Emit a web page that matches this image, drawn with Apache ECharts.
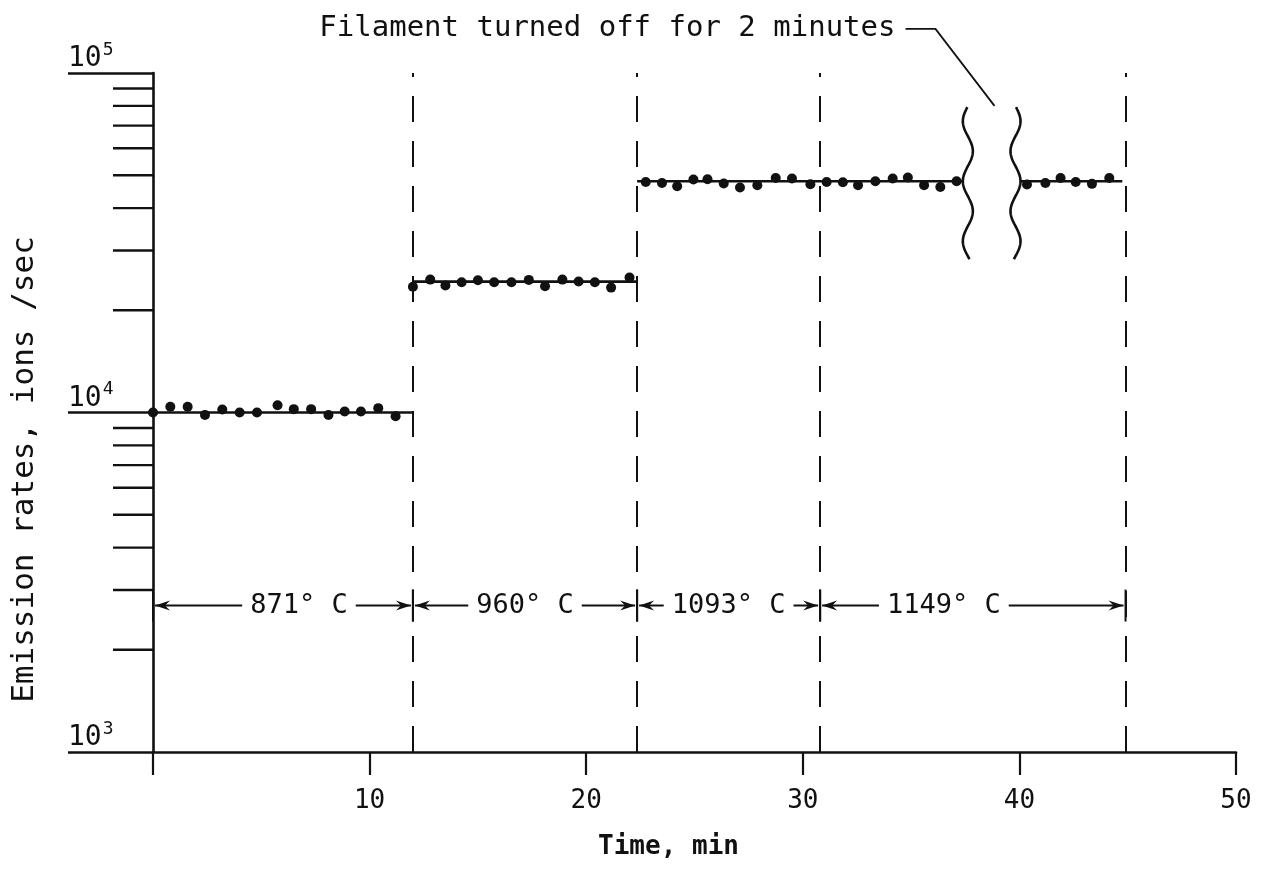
<!DOCTYPE html>
<html>
<head>
<meta charset="utf-8">
<script src="https://cdn.jsdelivr.net/npm/echarts@6/dist/echarts.min.js"></script>
<style>
html,body{margin:0;padding:0;background:#ffffff;}
#chart{width:1271px;height:873px;}
</style>
</head>
<body>
<div id="chart"></div>
<script>
// ---------------- data ----------------
const xTickValues = [0, 10, 20, 30, 40, 50];
const yMajorTicks = [1000, 10000, 100000];
const yMinorTicks = [2000, 3000, 4000, 5000, 6000, 7000, 8000, 9000,
                     20000, 30000, 40000, 50000, 60000, 70000, 80000, 90000];

// measured emission rates (ions/sec) vs time (min)
const seg1Times = [0, 0.8, 1.6, 2.4, 3.2, 4.0, 4.8, 5.75, 6.5, 7.3, 8.1, 8.85, 9.6, 10.4, 11.2];
const seg1Rates = [10000, 10400, 10400, 9840, 10200, 10000, 10000, 10500, 10230, 10230, 9830, 10070, 10070, 10300, 9750];

const seg2Times = [12.0, 12.8, 13.5, 14.25, 15.0, 15.75, 16.55, 17.35, 18.1, 18.9, 19.65, 20.4, 21.15, 22.0];
const seg2Rates = [23450, 24630, 23650, 24190, 24520, 24190, 24190, 24580, 23550, 24630, 24300, 24190, 23330, 24970];

const seg3Times = [22.75, 23.5, 24.2, 24.95, 25.6, 26.35, 27.1, 27.9, 28.75, 29.5, 30.35, 31.1, 31.85, 32.55, 33.35, 34.15, 34.85, 35.6, 36.35, 37.1];
const seg3Rates = [47770, 47450, 46400, 48550, 48660, 47260, 45990, 46700, 49080, 48890, 47030, 47770, 47670, 46700, 48000, 48890, 49220, 46700, 46180, 48000];

const seg4Times = [40.35, 41.2, 41.9, 42.6, 43.35, 44.15];
const seg4Rates = [46950, 47450, 49080, 47770, 47150, 49080];

// mean level lines
const levelValues = [10000, 24300, 48000, 48000];
const levelStart  = [0, 12, 22.35, 40.05];
const levelEnd    = [12, 22.35, 37.4, 44.75];

// temperature periods
const boundaryTimes = [12, 22.35, 30.8, 44.9];
const tempLabels = ['871° C', '960° C', '1093° C', '1149° C'];
const tempStart  = [0, 12, 22.35, 30.8];
const tempEnd    = [12, 22.35, 30.8, 44.9];

// filament off interval (break marks)
const breakTimes = [37.62, 39.82];
const breakLevel = 48000;
const noteText = 'Filament turned off for 2 minutes';

// ---------------- styling / layout constants ----------------
const INK = '#111111';
const MONO = '"DejaVu Sans Mono", monospace';
const ARROW_LEVEL = 2700;          // y level of the temperature arrows
const NOTE_ANCHOR = [38.85, 80000]; // end of the leader line
const tempLabelShift = [16, 0, 0, -29];

const chart = echarts.init(document.getElementById('chart'), null, {renderer: 'canvas'});

function arrowHead(tipX, y, dir) {
  const L = 15, W = 5, N = 10;
  return {
    type: 'polygon',
    shape: {points: [[tipX, y], [tipX - dir * L, y - W], [tipX - dir * N, y], [tipX - dir * L, y + W]]},
    style: {fill: INK}
  };
}

function textEl(x, y, text, font, align, vAlign, extra) {
  return {
    type: 'text', x: x, y: y,
    style: Object.assign({
      text: text, fill: INK, font: font,
      align: align, textAlign: align,
      verticalAlign: vAlign, textVerticalAlign: vAlign
    }, extra || {})
  };
}

const lineSeries = levelValues.map((lv, i) => ({
  type: 'line',
  silent: true,
  data: [[levelStart[i], lv], [levelEnd[i], lv]],
  showSymbol: false,
  symbol: 'none',
  lineStyle: {color: INK, width: 2.6, opacity: 1},
  z: 3,
  markLine: i === 0 ? {
    silent: true,
    symbol: ['none', 'none'],
    label: {show: false},
    lineStyle: {color: INK, width: 2, type: [26, 19], opacity: 1},
    data: boundaryTimes.map(t => ({xAxis: t}))
  } : undefined
}));

const scatterSeries = [[seg1Times, seg1Rates], [seg2Times, seg2Rates], [seg3Times, seg3Rates], [seg4Times, seg4Rates]]
  .map(([ts, rs]) => ({
    type: 'scatter',
    silent: true,
    data: ts.map((t, k) => [t, rs[k]]),
    symbol: 'circle',
    symbolSize: 10,
    itemStyle: {color: INK, opacity: 1},
    z: 5
  }));

const minorTickSeries = {
  type: 'custom',
  silent: true,
  clip: false,
  data: yMinorTicks.map(v => [0, v]),
  encode: {x: 0, y: 1},
  renderItem: (params, api) => {
    const c = api.coord([0, api.value(1)]);
    return {type: 'line', shape: {x1: c[0] - 40, y1: c[1], x2: c[0], y2: c[1]},
            style: {stroke: INK, lineWidth: 2.4}};
  },
  z: 4
};

const tempSeries = {
  type: 'custom',
  silent: true,
  clip: false,
  data: tempStart.map((s, i) => [s, tempEnd[i], ARROW_LEVEL]),
  encode: {x: [0, 1], y: 2},
  renderItem: (params, api) => {
    const i = params.dataIndex;
    const a = api.coord([api.value(0), ARROW_LEVEL]);
    const b = api.coord([api.value(1), ARROW_LEVEL]);
    const y = a[1];
    const cx = (a[0] + b[0]) / 2 + tempLabelShift[i];
    return {
      type: 'group',
      children: [
        {type: 'line', shape: {x1: a[0] + 2, y1: y, x2: b[0] - 2, y2: y}, style: {stroke: INK, lineWidth: 2}},
        arrowHead(a[0] + 2, y, -1),
        arrowHead(b[0] - 2, y, 1),
        {type: 'line', shape: {x1: a[0], y1: y - 16, x2: a[0], y2: y + 16}, style: {stroke: INK, lineWidth: 2}},
        {type: 'line', shape: {x1: b[0], y1: y - 16, x2: b[0], y2: y + 16}, style: {stroke: INK, lineWidth: 2}},
        textEl(cx, y, tempLabels[i], '27px ' + MONO, 'center', 'middle',
               {backgroundColor: '#ffffff', padding: [3, 8, 3, 8]})
      ]
    };
  },
  z: 6
};

const breakSeries = {
  type: 'custom',
  silent: true,
  clip: false,
  data: breakTimes.map((t, i) => [t, breakLevel, i === 0 ? -1 : 1]),
  encode: {x: 0, y: 1},
  renderItem: (params, api) => {
    const c = api.coord([api.value(0), api.value(1)]);
    const side = api.value(2);
    const pts = [];
    for (let dy = -74; dy <= 78; dy += 1) {
      pts.push([c[0] + side * 5 * Math.cos(2 * Math.PI * dy / 60), c[1] + dy]);
    }
    return {type: 'polyline', shape: {points: pts}, style: {stroke: INK, lineWidth: 2.6, fill: null}};
  },
  z: 6
};

const noteSeries = {
  type: 'custom',
  silent: true,
  clip: false,
  data: [NOTE_ANCHOR],
  encode: {x: 0, y: 1},
  renderItem: (params, api) => {
    const c = api.coord([api.value(0), api.value(1)]);
    const kink = [c[0] - 59, c[1] - 77];
    const hs = [kink[0] - 30, kink[1]];
    return {
      type: 'group',
      children: [
        {type: 'polyline', shape: {points: [hs, kink, c]}, style: {stroke: INK, lineWidth: 1.8, fill: null}},
        textEl(hs[0] - 10, kink[1], noteText, '29px ' + MONO, 'right', 'middle')
      ]
    };
  },
  z: 6
};

const option = {
  backgroundColor: '#ffffff',
  animation: false,
  grid: {left: 153, right: 35, top: 73, bottom: 121, containLabel: false, outerBoundsMode: 'none'},
  xAxis: {
    type: 'value',
    min: 0, max: 50, interval: 10,
    name: 'Time, min',
    nameLocation: 'middle',
    nameGap: 82,
    nameTextStyle: {color: INK, fontFamily: MONO, fontSize: 26, fontWeight: 'bold', padding: [0, 52, 0, 0]},
    axisLine: {show: true, onZero: false, lineStyle: {color: INK, width: 2.6}},
    axisTick: {show: true, inside: false, length: 23, lineStyle: {color: INK, width: 2.2}},
    axisLabel: {
      show: true, margin: 36, color: INK, fontFamily: MONO, fontSize: 26,
      showMinLabel: true, showMaxLabel: true,
      formatter: v => (v === 0 ? '' : String(v))
    },
    splitLine: {show: false}
  },
  yAxis: {
    type: 'log',
    logBase: 10,
    min: 1000, max: 100000,
    name: 'Emission rates, ions /sec',
    nameLocation: 'middle',
    nameRotate: 90,
    nameGap: 113,
    nameTextStyle: {color: INK, fontFamily: MONO, fontSize: 31, padding: [0, 114, 0, 0]},
    axisLine: {show: true, onZero: false, lineStyle: {color: INK, width: 2.6}},
    axisTick: {show: true, inside: false, length: 85, lineStyle: {color: INK, width: 2.6}},
    minorTick: {show: false},
    axisLabel: {
      show: true, align: 'left', margin: 85, verticalAlign: 'bottom',
      showMinLabel: true, showMaxLabel: true,
      formatter: v => '{b|10}{s|' + Math.round(Math.log10(v)) + '}',
      rich: {
        b: {fontFamily: MONO, fontSize: 28, color: INK, lineHeight: 32, verticalAlign: 'bottom'},
        s: {fontFamily: MONO, fontSize: 18, color: INK, lineHeight: 32, verticalAlign: 'top', padding: [0, 0, 0, 1]}
      }
    },
    splitLine: {show: false}
  },
  series: [].concat(lineSeries, scatterSeries, [minorTickSeries, tempSeries, breakSeries, noteSeries])
};

chart.setOption(option);
</script>
</body>
</html>
